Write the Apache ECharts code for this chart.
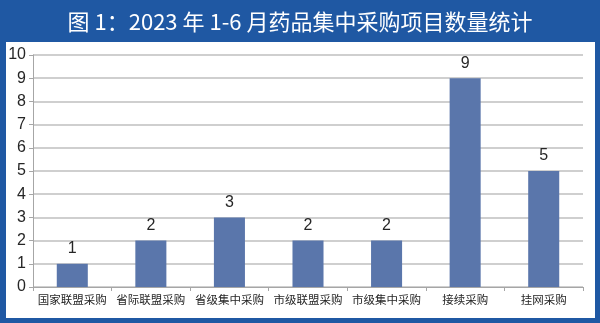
<!DOCTYPE html>
<html><head><meta charset="utf-8">
<script src="https://cdn.jsdelivr.net/npm/echarts@6/dist/echarts.min.js"></script>
<style>html,body{margin:0;padding:0;background:#1f58a3}#c{width:600px;height:323px}</style>
</head><body><div id="c"></div>
<script>
const titleText = '图 1：2023 年 1-6 月药品集中采购项目数量统计';
const categories = ['国家联盟采购','省际联盟采购','省级集中采购','市级联盟采购','市级集中采购','接续采购','挂网采购'];
const values = [1, 2, 3, 2, 2, 9, 5];
const yTicks = [0,1,2,3,4,5,6,7,8,9,10];

const chart = echarts.init(document.getElementById('c'), null, {renderer:'canvas'});
const font = '"Liberation Sans", Arial, "Noto Sans CJK SC", sans-serif';
chart.setOption({
  backgroundColor: '#1f58a3',
  animation: false,
  graphic: [
    {type:'rect', shape:{x:6, y:42, width:589, height:276}, style:{fill:'#ffffff'}, z:-10}
  ],
  title: {
    text: titleText, left: 'center', top: 6,
    textStyle: {color:'#ffffff', fontSize:22, fontWeight:'normal', fontFamily: '"Noto Sans CJK SC", sans-serif'}
  },
  grid: {left:33, right:17, top:55, bottom:36, containLabel:false},
  xAxis: {
    type:'category', data: categories,
    axisLine:{lineStyle:{color:'#a6a6a6', width:1}},
    axisTick:{show:true, length:4, lineStyle:{color:'#a6a6a6'}},
    axisLabel:{color:'#262626', fontSize:11.5, margin:7, interval:0, fontFamily:'"Noto Sans CJK SC", sans-serif'}
  },
  yAxis: {
    type:'value', min: yTicks[0], max: yTicks[yTicks.length-1], interval:1,
    axisLine:{show:true, lineStyle:{color:'#a6a6a6'}},
    axisTick:{show:true, length:4, lineStyle:{color:'#a6a6a6'}},
    axisLabel:{color:'#262626', fontSize:16, margin:7, fontFamily: font},
    splitLine:{lineStyle:{color:'#bfbfbf', width:1.5}}
  },
  series: [{
    type:'bar', data: values, barWidth:'39.5%',
    itemStyle:{color:'#5a76ab'},
    label:{show:true, position:'top', distance:7, color:'#262626', fontSize:16, fontFamily: font}
  }]
});
</script></body></html>
